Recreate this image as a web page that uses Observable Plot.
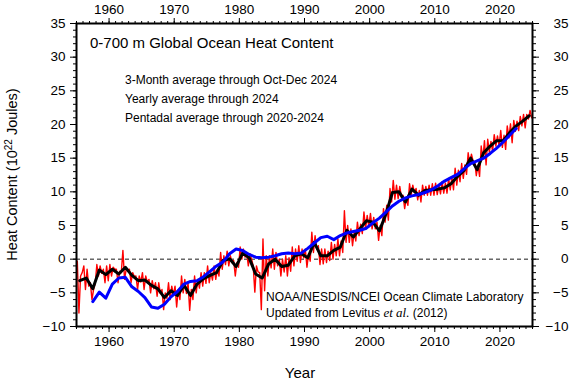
<!DOCTYPE html>
<html><head><meta charset="utf-8">
<script src="https://cdn.jsdelivr.net/npm/d3@7"></script>
<script src="https://cdn.jsdelivr.net/npm/@observablehq/plot@0.6"></script>
<style>body{margin:0;background:#fff}</style>
</head><body><div id="chart"></div>
<script>
const titleText = "0-700 m Global Ocean Heat Content";
const legendLines = ["3-Month average through Oct-Dec 2024", "Yearly average through 2024", "Pentadal average through 2020-2024"];
const xTicks = [1960, 1970, 1980, 1990, 2000, 2010, 2020];
const yTicks = [-10, -5, 0, 5, 10, 15, 20, 25, 30, 35];
const firstYear = 1955;
const firstPentadCenter = 1957.5;

// 3-month averages (4 per year, 1955..2024)
const quarterly = [
  -0.3,-8.0,-2.5,-2.0,  -1.0,-4.5,-1.5,-4.0,  -3.5,-6.0,-4.5,-3.6,  -0.8,-2.5,-1.0,-2.1,  -1.5,-3.5,-1.0,-3.2,
  -0.8,-2.5,-1.2,-1.5,  -1.5,-3.5,-1.8,-2.0,   1.3,-3.0,-1.5,-1.6,  -1.5,-3.5,-2.0,-2.6,  -2.5,-4.5,-2.5,-3.4,
  -2.0,-4.5,-2.5,-3.4,  -3.0,-5.0,-3.2,-4.4,  -3.5,-5.5,-3.5,-5.1,  -4.5,-7.5,-5.0,-5.8,  -3.5,-6.0,-4.0,-5.3,
  -4.0,-7.1,-4.5,-6.0,  -2.5,-5.0,-3.0,-5.1,  -3.5,-7.6,-4.5,-6.0,  -2.5,-5.0,-3.0,-4.3,  -2.0,-4.0,-2.0,-3.6,
  -1.0,-3.5,-2.0,-3.1,  -1.0,-3.0,-1.5,-2.5,   1.0,-1.5, 0.5,-0.8,   1.2,-1.0, 0.5,-0.5,  -0.2,-2.5,-0.5,-1.2,
   1.8, 0.0, 1.5, 0.3,   1.0,-1.0, 0.8, 0.0,  -1.0,-4.9,-1.0,-1.9,  -2.0,-7.5, 3.0,-4.7,   0.5,-2.5, 0.5,-1.3,
   1.5,-1.5, 1.0,-1.0,   0.0,-2.5, 0.0,-1.9,   0.5,-2.5, 0.2,-1.8,   1.8,-1.0, 1.5,-0.3,   2.0,-0.5, 1.5, 0.2,
   1.5,-1.2, 0.8,-0.3,   4.0, 1.0, 3.5, 1.5,   2.0,-0.8, 1.5,-0.7,   1.5,-0.5, 1.2,-0.2,   2.5, 0.0, 2.2, 0.5,
   3.0, 0.5, 2.7, 1.0,   7.2, 2.5, 5.0, 2.5,   4.5, 2.0, 4.0, 2.7,   5.5, 3.5, 5.2, 3.8,   7.0, 4.5, 6.5, 4.8,
   6.8, 4.5, 6.2, 4.5,   5.5, 2.8, 5.0, 3.5,   7.5, 5.5, 8.0, 5.8,  10.5, 8.5,11.7, 8.9,  11.0, 9.0,10.8, 9.2,
   9.5, 7.5, 9.0, 8.0,  11.2, 9.5,11.0, 9.9,  10.5, 8.8,10.2, 8.5,  11.0, 9.5,10.8, 9.5,  11.0, 9.5,11.2, 9.5,
  11.3, 9.6,11.0, 9.7,  11.5, 9.8,11.3, 9.8,  12.0,10.3,12.2,10.3,  13.5,11.0,13.2,11.5,  14.2,12.0,14.0,12.6,
  15.8,14.0,15.6,14.6,  14.5,12.4,14.0,12.3,  16.8,14.8,17.6,14.0,  17.8,15.9,17.5,16.0,  18.5,16.8,18.3,16.8,
  19.1,16.6,18.4,16.3,  19.8,18.0,20.1,17.3,  20.6,19.0,20.5,19.1,  21.2,19.8,21.5,19.5,  21.5,20.8,22.1,21.0
];

// yearly averages 1955..2024
const yearly = [
  -3.2,-2.8,-4.4,-1.6,-2.3,-1.5,-2.2,-1.2,-2.4,-3.2,
  -3.1,-3.9,-4.4,-5.7,-4.7,-5.4,-3.9,-5.4,-3.7,-2.9,
  -2.4,-2.0,-0.2, 0.05,-1.1, 0.9, 0.2,-2.2,-2.8,-0.7,
   0.0,-1.1,-0.9, 0.5, 0.8, 0.2, 2.5, 0.5, 0.5, 1.3,
   1.8, 4.3, 3.3, 4.5, 5.7, 5.5, 4.2, 6.7, 9.9,10.0,
   8.5,10.4, 9.5,10.2,10.3,10.4,10.6,11.2,12.3,13.2,
  15.0,13.3,15.8,16.8,17.6,17.6,18.8,19.8,20.5,21.3
];

// pentadal averages centred 1957.5..2022.5
const pentadal = [
  -6.3,-4.9,-5.8,-3.7,-2.8,-2.7,-4.1,-4.8,-5.7,-7.1,
  -7.3,-6.7,-5.6,-4.8,-3.7,-3.3,-3.2,-2.6,-1.8,-1.0,
  -0.4, 0.8, 1.5, 1.3, 0.7, 0.3, 0.2, 0.3, 0.5, 0.8,
   0.9, 0.8, 0.9, 1.6, 2.4, 3.2, 3.4, 2.9, 3.5, 3.9,
   4.1, 4.3, 4.6, 5.4, 6.1, 7.0, 7.9, 8.6, 9.1, 9.4,
   9.6, 9.9,10.3,10.9,11.6,12.1,12.6,13.4,14.2,14.6,
  15.0,15.7,16.5,17.4,18.4,19.4
];

const qData = quarterly.map((v, i) => ({t: firstYear + i / 4 + 0.125, v}));
const yData = yearly.map((v, i) => ({t: firstYear + i + 0.5, v}));
const pData = pentadal.map((v, i) => ({t: firstPentadCenter + i, v}));

const xDomain = [1955, 2025];
const yDomain = [-10, 35];
const minorX = d3.range(xDomain[0], xDomain[1] + 1);
const minorY = d3.range(yDomain[0], yDomain[1] + 1);
const fmt = d => d < 0 ? "\u2212" + Math.abs(d) : String(d);
const blank = () => "";

const chart = Plot.plot({
  width: 569, height: 380,
  marginTop: 23, marginRight: 37, marginBottom: 54, marginLeft: 76,
  style: {fontFamily: "'Liberation Sans', Arial, sans-serif", fontSize: "13.5px", background: "#fff", color: "#000"},
  x: {domain: xDomain},
  y: {domain: yDomain},
  marks: [
    Plot.ruleY([0], {stroke: "#000", strokeWidth: 0.9, strokeDasharray: "4,3"}),
    Plot.line(qData, {x: "t", y: "v", stroke: "#ff0000", strokeWidth: 1.4}),
    Plot.line(yData, {x: "t", y: "v", stroke: "#000", strokeWidth: 3}),
    Plot.line(pData, {x: "t", y: "v", stroke: "#0000ff", strokeWidth: 3}),
    Plot.frame({stroke: "#000", strokeWidth: 2}),
    Plot.axisX({anchor: "bottom", ticks: xTicks, tickSize: 6, tickPadding: 4, tickFormat: String, label: null}),
    Plot.axisX({anchor: "bottom", ticks: minorX, tickSize: 3, tickFormat: blank, label: null}),
    Plot.axisX({anchor: "top", ticks: xTicks, tickSize: 6, tickPadding: 4, tickFormat: String, label: null}),
    Plot.axisX({anchor: "top", ticks: minorX, tickSize: 3, tickFormat: blank, label: null}),
    Plot.axisY({anchor: "left", ticks: yTicks, tickSize: 6, tickPadding: 5, tickFormat: fmt, label: null}),
    Plot.axisY({anchor: "left", ticks: minorY, tickSize: 3, tickFormat: blank, label: null}),
    Plot.axisY({anchor: "right", ticks: yTicks, tickSize: 6, tickPadding: 30, tickFormat: fmt, textAnchor: "end", label: null}),
    Plot.axisY({anchor: "right", ticks: minorY, tickSize: 3, tickFormat: blank, label: null})
  ]
});
document.getElementById("chart").appendChild(chart);

const svg = d3.select(chart);
const ff = "'Liberation Sans', Arial, sans-serif";
const addText = (x, y, size) => svg.append("text").attr("x", x).attr("y", y)
  .attr("text-anchor", "start").attr("font-family", ff).attr("font-size", size).attr("fill", "#000");
addText(90, 48, 15).text(titleText);
legendLines.forEach((s, i) => addText(125, 84 + i * 19, 12).text(s));
addText(266, 301, 12).text("NOAA/NESDIS/NCEI Ocean Climate Laboratory");
const cap2 = addText(266, 317, 12);
cap2.append("tspan").text("Updated from Levitus ");
cap2.append("tspan").attr("font-family", "'Liberation Serif', 'Times New Roman', serif").attr("font-style", "italic").attr("font-size", 13).text("et al.");
cap2.append("tspan").text(" (2012)");
addText(300, 378, 15).attr("text-anchor", "middle").text("Year");
const yl = svg.append("text").attr("transform", "translate(17,174.5) rotate(-90)").attr("text-anchor", "middle").attr("font-family", ff).attr("font-size", 14.5).attr("fill", "#000");
yl.append("tspan").text("Heat Content (10");
yl.append("tspan").attr("dy", -5).attr("font-size", 10).text("22");
yl.append("tspan").attr("dy", 5).text(" Joules)");
</script>
</body></html>
